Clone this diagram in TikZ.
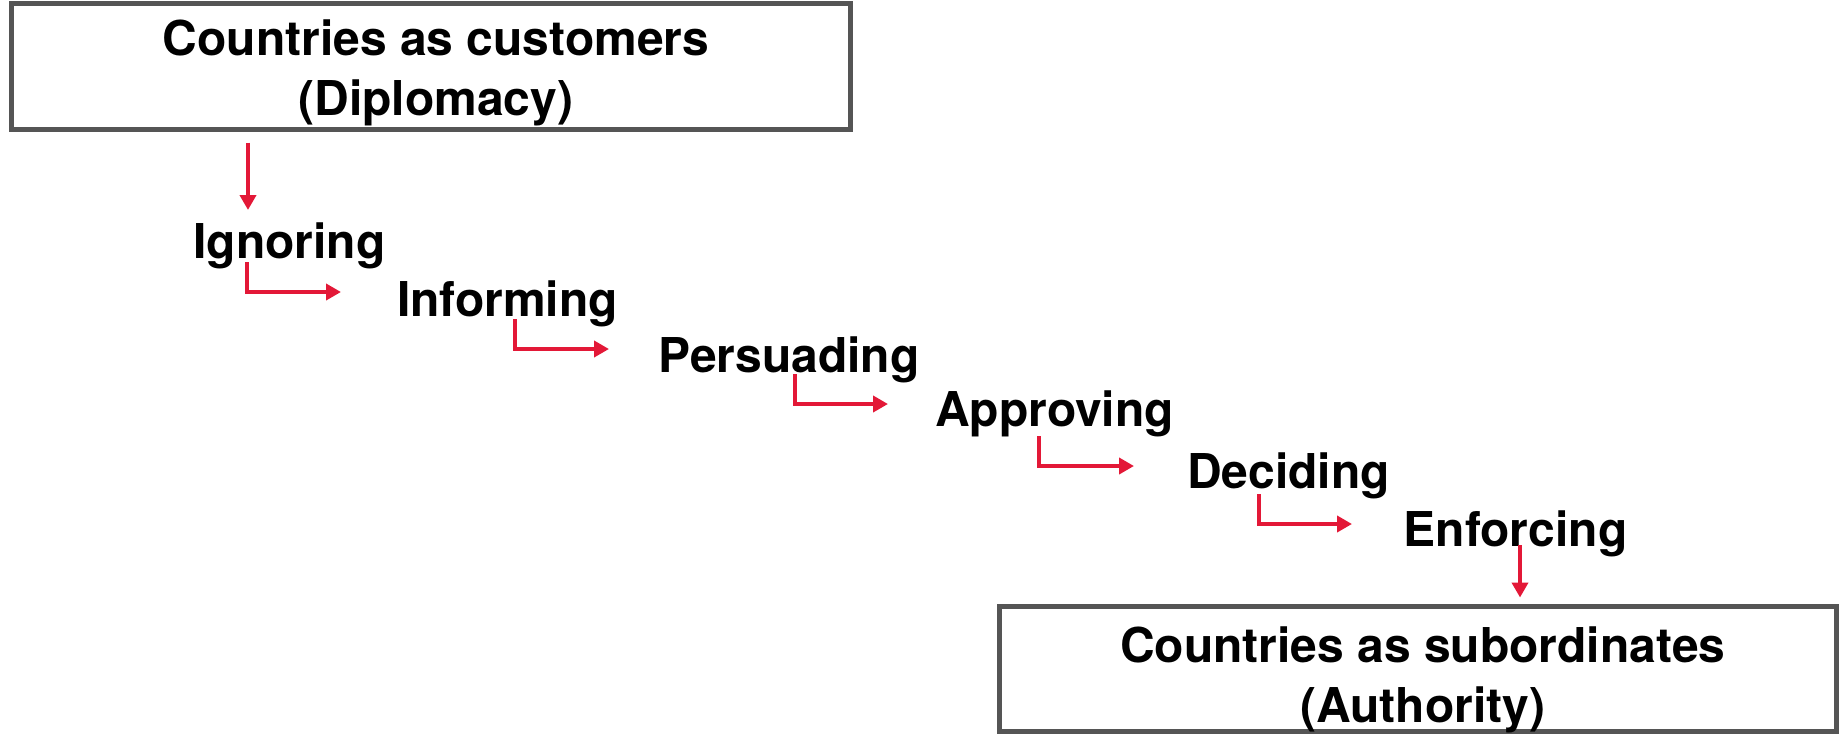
\documentclass[tikz,border=0pt]{standalone}
\usepackage{fontspec}
\setmainfont{TeX Gyre Heros}
\usetikzlibrary{arrows.meta,calc}
\definecolor{arrowred}{RGB}{227,24,55}
\definecolor{boxgray}{RGB}{85,85,85}
\begin{document}
\begin{tikzpicture}[x=0.5pt,y=-0.5pt,
  word/.style={font=\fontsize{24}{30}\selectfont\bfseries, inner sep=0pt, anchor=base},
  framebox/.style={draw=boxgray, line width=2.5pt, fill=white, inner sep=0pt,
    font=\fontsize{24}{30}\selectfont\bfseries},
  conn/.style={draw=arrowred, line width=2.4pt, -{Triangle[length=7.5pt,width=8pt]}}]
\useasboundingbox[fill=white] (0,0) rectangle (1839,734);
% boxes
\node[framebox, minimum width=419.5pt, minimum height=63pt, text height=20pt, text depth=31.5pt]
  (top) at (431,66.5) {\begin{tabular}[t]{@{\hspace{5pt}}c@{}}Countries as customers\\(Diplomacy)\end{tabular}};
\node[framebox, minimum width=418.25pt, minimum height=62.5pt, text height=20pt, text depth=27pt]
  (bot) at (1417.75,669) {\begin{tabular}[t]{@{\hspace{5pt}}c@{}}Countries as subordinates\\(Authority)\end{tabular}};
% words
\node[word] (ign) at (289.5,258) {Ignoring};
\node[word] (inf) at (507.5,316) {Informing};
\node[word] (per) at (789,372) {Persuading};
\node[word] (app) at (1054.5,426) {Approving};
\node[word] (dec) at (1288.5,488) {Deciding};
\node[word] (enf) at (1515.5,546) {Enforcing};
% connectors
\draw[conn] ($(top.south)+(-183,10.5)$) -- ($(ign.base)+(-41.5,-48)$);
\draw[conn] ($(ign.base)+(-42.5,4)$) |- ($(inf.base)+(-166.5,-24)$);
\draw[conn] ($(inf.base)+(7.5,3)$) |- ($(per.base)+(-180,-23)$);
\draw[conn] ($(per.base)+(6,2)$) |- ($(app.base)+(-166.5,-22)$);
\draw[conn] ($(app.base)+(-15.5,10)$) |- ($(dec.base)+(-154.5,-22)$);
\draw[conn] ($(dec.base)+(-29.5,6)$) |- ($(enf.base)+(-163.5,-22)$);
\draw[conn] ($(enf.base)+(4.5,-1)$) -- ($(bot.north)+(102.25,-6.5)$);
\end{tikzpicture}
\end{document}
